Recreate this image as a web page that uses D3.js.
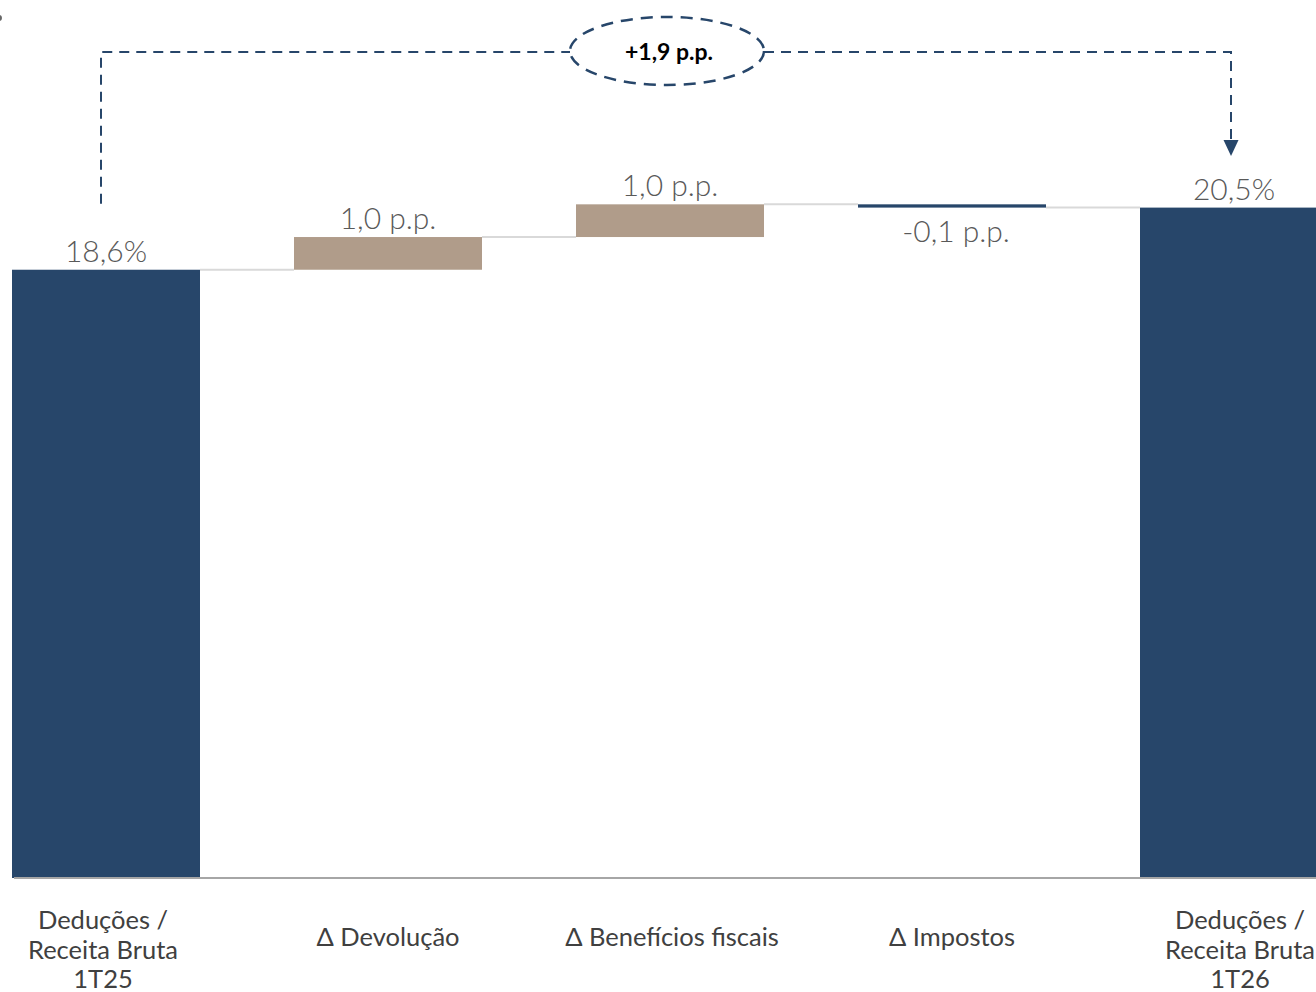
<!DOCTYPE html>
<html>
<head>
<meta charset="utf-8">
<script src="https://cdn.jsdelivr.net/npm/d3@7"></script>
<style>
  html, body { margin: 0; padding: 0; background: #fff; overflow: hidden; }
  svg { display: block; }
</style>
</head>
<body>
<svg id="chart" width="1316" height="992"></svg>
<script>
// ---- data ----
const categories = [
  ["Deduções /", "Receita Bruta", "1T25"],
  ["Δ Devolução"],
  ["Δ Benefícios fiscais"],
  ["Δ Impostos"],
  ["Deduções /", "Receita Bruta", "1T26"]
];
const categoryKeys = ["start", "devolucao", "beneficios", "impostos", "end"];
const values = [18.6, 1.0, 1.0, -0.1, 20.5];
const kinds = ["total", "delta", "delta", "delta", "total"];
const valueLabels = ["18,6%", "1,0 p.p.", "1,0 p.p.", "-0,1 p.p.", "20,5%"];
const totalChangeLabel = "+1,9 p.p.";

// ---- build waterfall segments ----
let running = 0;
const segs = values.map((v, i) => {
  let y0, y1;
  if (kinds[i] === "total") { y0 = 0; y1 = v; running = v; }
  else { y0 = running; y1 = running + v; running = y1; }
  return { key: categoryKeys[i], lines: categories[i], value: v, kind: kinds[i],
           y0, y1, label: valueLabels[i], end: running, idx: i };
});

const svg = d3.select("#chart");
const navy = "#27466A", tan = "#B09C8A";

const x = d3.scaleBand().domain(categoryKeys).range([12, 1328])
  .paddingInner(94 / 282).paddingOuter(0);
const y = d3.scaleLinear().domain([0, 20.5]).range([878, 207.6]);

// connectors
for (let i = 0; i < segs.length - 1; i++) {
  const lvl = segs[i].end;
  svg.append("line")
    .attr("x1", x(segs[i].key) + x.bandwidth())
    .attr("x2", x(segs[i + 1].key))
    .attr("y1", y(lvl)).attr("y2", y(lvl))
    .attr("stroke", "#d9d9d9").attr("stroke-width", 2);
}

// bars
svg.selectAll("rect.bar").data(segs).enter().append("rect")
  .attr("class", "bar")
  .attr("x", d => x(d.key))
  .attr("width", x.bandwidth())
  .attr("y", d => y(Math.max(d.y0, d.y1)))
  .attr("height", d => Math.max(2, Math.abs(y(d.y0) - y(d.y1))))
  .attr("fill", d => d.kind === "total" || d.value < 0 ? navy : tan);

// baseline
svg.append("line")
  .attr("x1", 14).attr("x2", 1316)
  .attr("y1", y(0)).attr("y2", y(0))
  .attr("stroke", "#a6a6a6").attr("stroke-width", 2);

// value labels
svg.selectAll("text.val").data(segs).enter().append("text")
  .attr("class", "val")
  .attr("x", d => x(d.key) + x.bandwidth() / 2 + (d.value < 0 && d.kind !== "total" ? 4 : 0))
  .attr("y", d => d.value < 0 && d.kind !== "total"
      ? y(Math.min(d.y0, d.y1)) + 34
      : y(Math.max(d.y0, d.y1)) - 8)
  .attr("text-anchor", "middle")
  .attr("font-family", "Lato, 'Noto Sans', sans-serif")
  .attr("font-weight", 300)
  .attr("font-size", 30)
  .attr("fill", "#595959")
  .text(d => d.label);

// category labels
const labelShift = [-3, 0, 2, 0, 6];
const catG = svg.selectAll("g.cat").data(segs).enter().append("g").attr("class", "cat")
  .attr("transform", d => `translate(${x(d.key) + x.bandwidth() / 2 + labelShift[d.idx]},0)`);
catG.each(function(d) {
  const g = d3.select(this);
  const n = d.lines.length;
  const lh = 29.5;
  const first = n === 1 ? 946 : 929;
  d.lines.forEach((t, j) => {
    g.append("text")
      .attr("x", 0)
      .attr("y", first + j * lh)
      .attr("text-anchor", "middle")
      .attr("font-family", "Lato, 'Noto Sans', sans-serif")
      .attr("font-size", 25.5)
      .attr("fill", "#404040")
      .text(t);
  });
});

// annotation bracket
const xs = x("start") + x.bandwidth() / 2 - 5;
const xe = x("end") + x.bandwidth() / 2 - 3;
const yTop = 52;
const cx = 667, cy = 51, rx = 97, ry = 34;
const dash = "10,7";
svg.append("path")
  .attr("d", `M${xs},${y(segs[0].end) - 66} V${yTop} H${cx - rx}`)
  .attr("fill", "none").attr("stroke", navy).attr("stroke-width", 2)
  .attr("stroke-dasharray", dash);
svg.append("path")
  .attr("d", `M${cx + rx},${yTop} H${xe} V${140}`)
  .attr("fill", "none").attr("stroke", navy).attr("stroke-width", 2)
  .attr("stroke-dasharray", dash);
svg.append("path")
  .attr("d", `M${xe - 7.5},140 L${xe + 7.5},140 L${xe},156 Z`)
  .attr("fill", navy);
svg.append("ellipse")
  .attr("cx", cx).attr("cy", cy).attr("rx", rx).attr("ry", ry)
  .attr("fill", "#fff").attr("stroke", navy).attr("stroke-width", 2.5)
  .attr("stroke-dasharray", "12,8");
svg.append("text")
  .attr("x", cx + 2).attr("y", 60)
  .attr("text-anchor", "middle")
  .attr("font-family", "Lato, 'Noto Sans', sans-serif")
  .attr("font-weight", 700)
  .attr("font-size", 23)
  .attr("fill", "#000")
  .text(totalChangeLabel);

// small clipped mark at top-left
svg.append("circle").attr("cx", -1).attr("cy", 18).attr("r", 3).attr("fill", "#666");
</script>
</body>
</html>
